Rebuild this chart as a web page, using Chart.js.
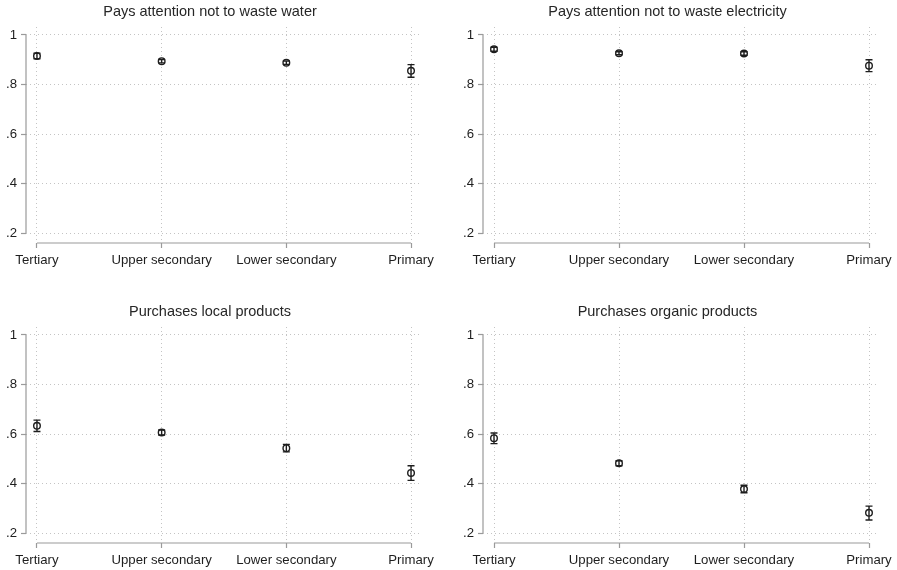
<!DOCTYPE html>
<html>
<head>
<meta charset="utf-8">
<title>Environmental behaviour by education</title>
<script src="https://cdn.jsdelivr.net/npm/chart.js@4.4.1/dist/chart.umd.min.js"></script>
<style>
    body { margin: 0; background: #fff; }
    #wrap { position: relative; width: 897px; height: 570px; }
    #wrap canvas { position: absolute; }
</style>
</head>
<body>
<div id="wrap">
    <canvas id="waterChart" width="448" height="270" style="left:0;top:0"></canvas>
    <canvas id="elecChart" width="440" height="270" style="left:457px;top:0"></canvas>
    <canvas id="localChart" width="448" height="270" style="left:0;top:300px"></canvas>
    <canvas id="organicChart" width="440" height="270" style="left:457px;top:300px"></canvas>
</div>
<script>
// categories and tick labels
const categories = ['Tertiary', 'Upper secondary', 'Lower secondary', 'Primary'];
const yTicks = [0.2, 0.4, 0.6, 0.8, 1];
const yTickLabels = ['.2', '.4', '.6', '.8', '1'];

// means with lower / upper confidence bounds
const waterMean = [0.915, 0.894, 0.888, 0.855];
const waterLo   = [0.904, 0.887, 0.881, 0.829];
const waterHi   = [0.926, 0.901, 0.895, 0.880];

const elecMean = [0.942, 0.926, 0.925, 0.876];
const elecLo   = [0.934, 0.920, 0.918, 0.852];
const elecHi   = [0.950, 0.932, 0.932, 0.900];

const localMean = [0.633, 0.606, 0.543, 0.443];
const localLo   = [0.610, 0.596, 0.528, 0.413];
const localHi   = [0.656, 0.616, 0.558, 0.472];

const organicMean = [0.583, 0.482, 0.378, 0.282];
const organicLo   = [0.561, 0.472, 0.363, 0.253];
const organicHi   = [0.604, 0.492, 0.393, 0.309];

const FONT = '"Liberation Sans", Arial, sans-serif';
const AXIS_COLOR = '#9a9a9a';
const MARK_COLOR = '#1e1e1e';

// Draws the short Stata-style axis lines and the CI whiskers
const stataPlugin = {
    id: 'stataExtras',
    beforeDatasetsDraw(chart) {
        const ctx = chart.ctx;
        const xs = chart.scales.x;
        const ys = chart.scales.y;
        const area = chart.chartArea;
        ctx.save();
        ctx.strokeStyle = AXIS_COLOR;
        ctx.lineWidth = 1.2;
        ctx.beginPath();
        ctx.moveTo(area.left, ys.getPixelForValue(yTicks[yTicks.length - 1]));
        ctx.lineTo(area.left, ys.getPixelForValue(yTicks[0]));
        ctx.moveTo(xs.getPixelForValue(0), area.bottom);
        ctx.lineTo(xs.getPixelForValue(categories.length - 1), area.bottom);
        ctx.stroke();

        // confidence intervals
        const ds = chart.data.datasets[0];
        ctx.strokeStyle = MARK_COLOR;
        ctx.lineWidth = 1.4;
        ds.data.forEach((pt, i) => {
            const px = xs.getPixelForValue(pt.x);
            const top = ys.getPixelForValue(ds.hi[i]);
            const bot = ys.getPixelForValue(ds.lo[i]);
            ctx.beginPath();
            ctx.moveTo(px, top);
            ctx.lineTo(px, bot);
            ctx.moveTo(px - 3.5, top);
            ctx.lineTo(px + 3.5, top);
            ctx.moveTo(px - 3.5, bot);
            ctx.lineTo(px + 3.5, bot);
            ctx.stroke();
        });
        ctx.restore();
    }
};

function makePanel(canvasId, title, mean, lo, hi, rightPad) {
    const ctx = document.getElementById(canvasId).getContext('2d');
    const points = mean.map((v, i) => ({ x: i, y: v }));

    return new Chart(ctx, {
        type: 'scatter',
        data: {
            datasets: [{
                data: points,
                lo: lo,
                hi: hi,
                showLine: false,
                pointStyle: 'circle',
                pointRadius: 3.3,
                pointBorderWidth: 1.4,
                pointBorderColor: MARK_COLOR,
                pointBackgroundColor: 'rgba(0,0,0,0)'
            }]
        },
        options: {
            responsive: false,
            animation: false,
            devicePixelRatio: 1,
            layout: { padding: { left: 0, right: rightPad, top: 0, bottom: 0 } },
            plugins: {
                legend: { display: false },
                tooltip: { enabled: false },
                title: {
                    display: true,
                    text: title,
                    color: '#262626',
                    font: { family: FONT, size: 14.5, weight: 'normal', lineHeight: 1.2 },
                    padding: { top: 3.5, bottom: 6.1 }
                }
            },
            scales: {
                x: {
                    type: 'linear',
                    min: -0.088,
                    max: 3.072,
                    afterBuildTicks: (scale) => {
                        scale.ticks = categories.map((c, i) => ({ value: i }));
                    },
                    afterFit: (scale) => { scale.height = 27; },
                    grid: {
                        color: '#c4c4c4',
                        tickColor: AXIS_COLOR,
                        tickBorderDash: [],
                        tickLength: 5,
                        tickWidth: 1.2
                    },
                    border: { display: false, dash: [1, 3] },
                    ticks: {
                        autoSkip: false,
                        maxRotation: 0,
                        padding: 4,
                        color: '#1e1e1e',
                        font: { family: FONT, size: 13.2 },
                        callback: (value) => categories[Math.round(value)]
                    }
                },
                y: {
                    min: 0.16,
                    max: 1.032,
                    afterBuildTicks: (scale) => {
                        scale.ticks = yTicks.map(v => ({ value: v }));
                    },
                    afterFit: (scale) => { scale.width = 26; },
                    grid: {
                        color: '#c4c4c4',
                        tickColor: AXIS_COLOR,
                        tickBorderDash: [],
                        tickLength: 5,
                        tickWidth: 1.2
                    },
                    border: { display: false, dash: [1, 3] },
                    ticks: {
                        padding: 4,
                        color: '#1e1e1e',
                        font: { family: FONT, size: 13.2 },
                        callback: (value) => yTickLabels[yTicks.findIndex(t => Math.abs(t - value) < 1e-6)]
                    }
                }
            }
        },
        plugins: [stataPlugin]
    });
}

makePanel('waterChart', 'Pays attention not to waste water', waterMean, waterLo, waterHi, 28);
makePanel('elecChart', 'Pays attention not to waste electricity', elecMean, elecLo, elecHi, 19);
makePanel('localChart', 'Purchases local products', localMean, localLo, localHi, 28);
makePanel('organicChart', 'Purchases organic products', organicMean, organicLo, organicHi, 19);
</script>
</body>
</html>
